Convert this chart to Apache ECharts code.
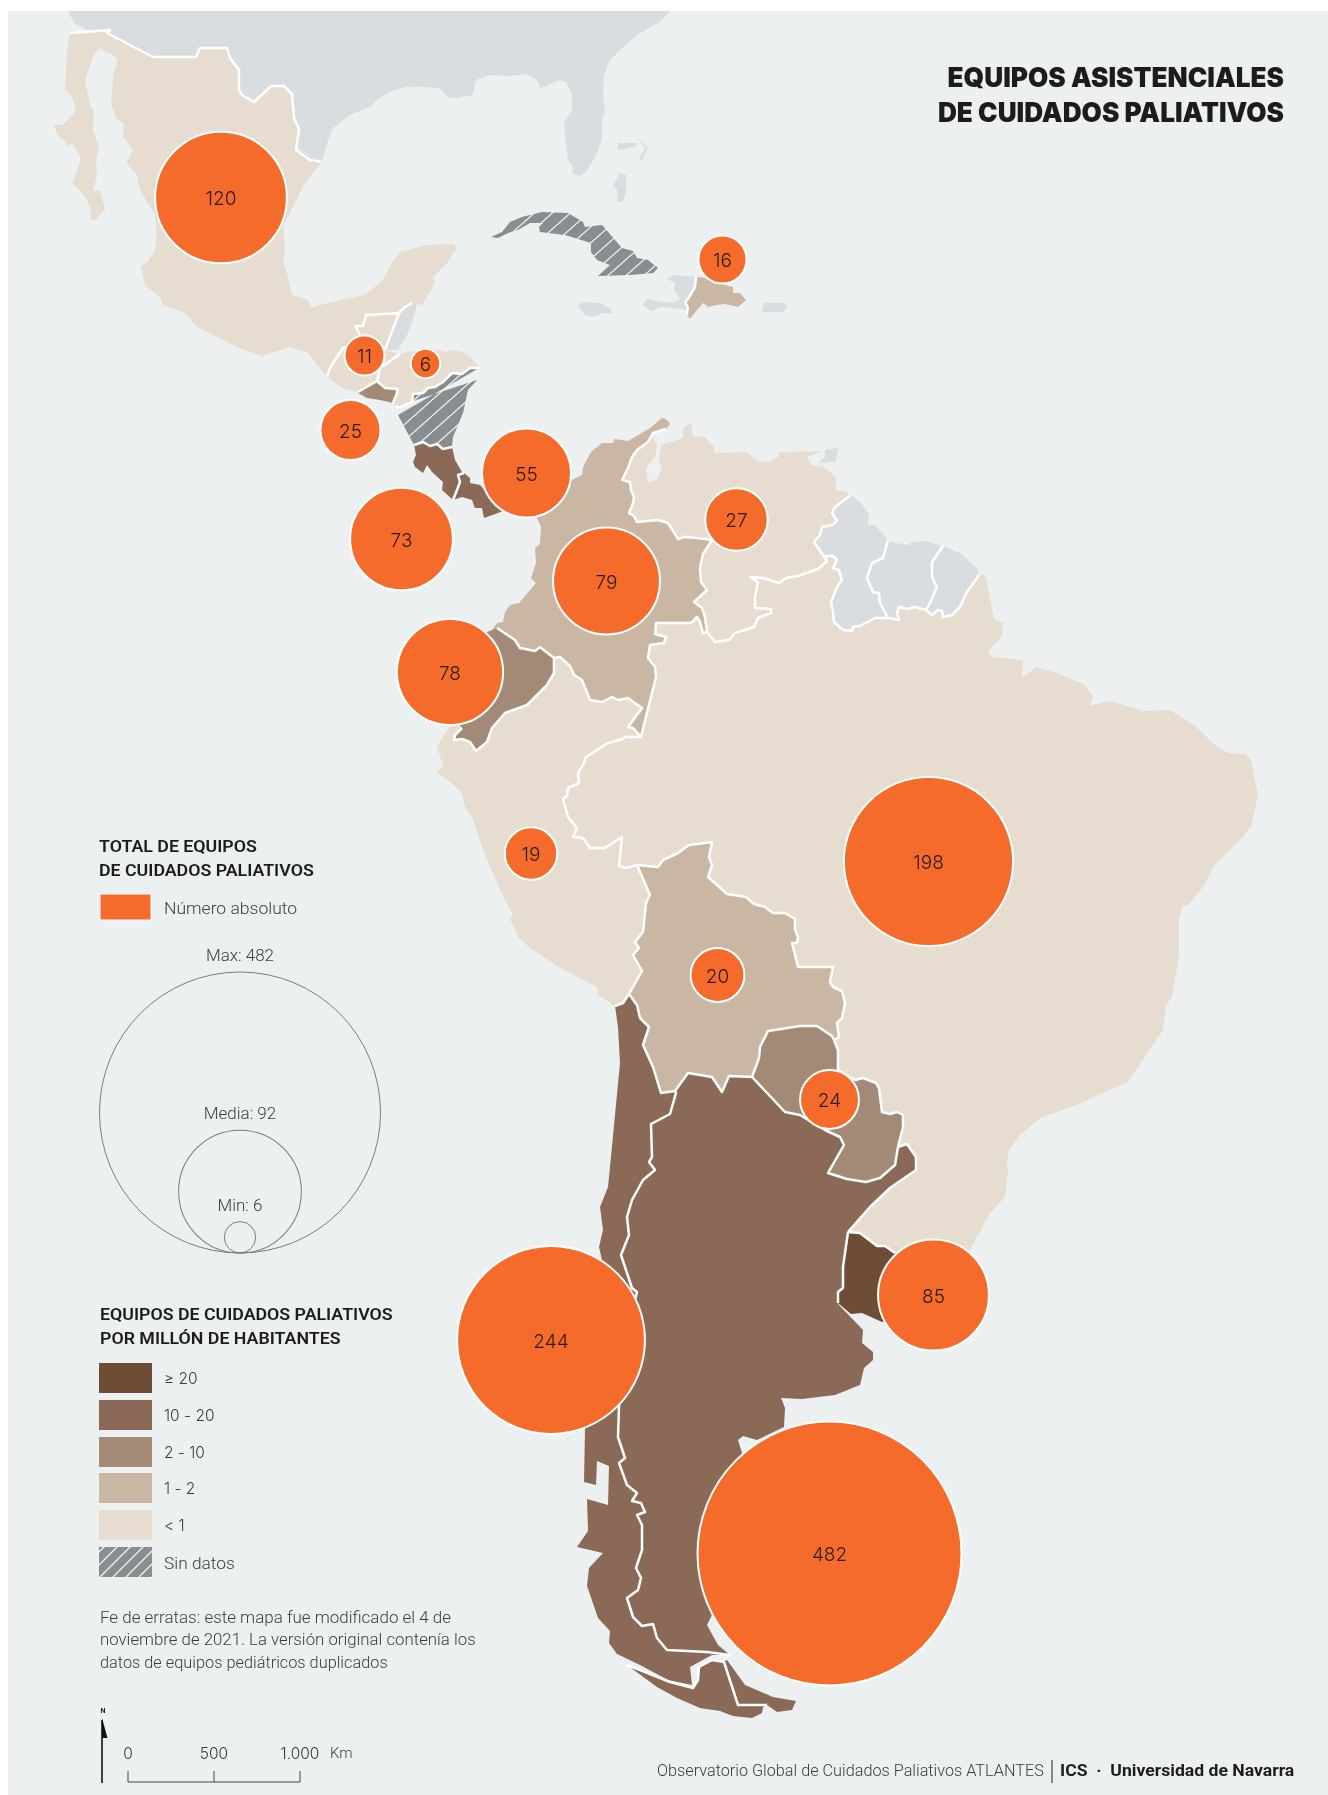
<!DOCTYPE html>
<html>
<head>
<meta charset="utf-8">
<title>Equipos asistenciales de cuidados paliativos</title>
<script src="https://cdn.jsdelivr.net/npm/echarts@6/dist/echarts.min.js"></script>
<style>
  html, body { margin: 0; padding: 0; background: #fff; }
  #chart { width: 1328px; height: 1795px; }
</style>
</head>
<body>
<div id="chart"></div>
<script>
// values
const countries = ['Argentina', 'Chile', 'Brasil', 'México', 'Uruguay', 'Colombia', 'Ecuador', 'Costa Rica', 'Panamá', 'Venezuela', 'El Salvador', 'Paraguay', 'Bolivia', 'Perú', 'Rep. Dominicana', 'Guatemala', 'Honduras']
const teams = [482, 244, 198, 120, 85, 79, 78, 73, 55, 27, 25, 24, 20, 19, 16, 11, 6]
// where each bubble sits, in map units
const anchors = [[829.5, 1553.5], [551, 1340], [928.5, 861.5], [221, 197.5], [933.5, 1295], [606.5, 581], [450, 672], [401.5, 539], [526.5, 473], [736.5, 519.5], [350.5, 430], [829.5, 1099.5], [717.5, 975], [531, 853.5], [722.5, 259.5], [364.5, 355.5], [425.5, 363.5]]

const classLabels = ['≥ 20', '10 - 20', '2 - 10', '1 - 2', '< 1', 'Sin datos']
const classColors = ['#6e4d37', '#8a6956', '#a38a77', '#c9b6a3', '#e6ddd0', '#888d90']
const class20 = ['Uruguay']
const class10 = ['Argentina', 'Chile', 'Costa Rica', 'Panamá']
const class2 = ['Ecuador', 'El Salvador', 'Paraguay']
const class1 = ['Colombia', 'Bolivia', 'Rep. Dominicana']
const class0 = ['México', 'Guatemala', 'Honduras', 'Venezuela', 'Perú', 'Brasil']
const classNone = ['Nicaragua', 'Cuba']

const sizeLegendNames = ['Max', 'Media', 'Min']
const sizeLegendValues = [482, 92, 6]
const scaleTicks = ['0', '500', '1.000']

// land borders, shared by the two countries on each side
const usaMex = [[70, 33], [110, 30], [107, 33], [153, 57], [196, 57], [200, 48], [227, 48], [230, 58], [239, 70], [239, 90], [242, 95], [254, 102], [271, 86], [284, 86], [292, 94], [294, 118], [299, 129], [296, 150], [310, 160], [322, 162]]
const mexGua = [[327, 377], [330, 368], [343, 348], [358, 345], [360, 335], [355, 326], [363, 326], [366, 315], [399, 313]]
const mexBel = [[399, 313], [405, 307], [412, 303]]
const guaBel = [[399, 313], [385, 350]]
const guaHon = [[400, 354], [380, 368], [377, 381]]
const guaSal = [[377, 381], [358, 392]]
const honSal = [[377, 381], [385, 388], [397, 389], [397, 393], [393, 403]]
const honNic = [[479, 368], [470, 368], [462, 374], [452, 373], [443, 382], [435, 387], [428, 388], [423, 393], [413, 394], [412, 402], [400, 407], [395, 407]]
const nicCri = [[414, 445], [423, 442], [430, 446], [437, 444], [443, 449], [452, 447]]
const criPan = [[464, 473], [458, 475], [460, 482], [457, 490], [453, 500]]
const colVen = [[666, 429], [653, 433], [648, 442], [637, 450], [632, 457], [628, 468], [622, 480], [630, 482], [631, 490], [634, 497], [633, 503], [629, 513], [634, 516], [637, 522], [658, 520], [668, 523], [678, 539], [685, 537], [697, 538], [712, 540], [703, 554], [700, 568], [701, 582], [707, 590], [694, 602], [702, 608], [705, 617], [707, 632]]
const colBra = [[707, 632], [703, 633], [700, 622], [697, 617], [691, 623], [656, 623], [655, 634], [666, 637], [664, 643], [650, 645], [648, 658], [655, 667], [656, 677], [641, 737]]
const colPer = [[554, 658], [560, 657], [570, 666], [574, 675], [582, 680], [590, 700], [602, 702], [612, 697], [618, 700], [628, 698], [642, 708], [628, 727], [633, 728], [641, 737]]
const colEcu = [[497, 628], [515, 640], [520, 648], [535, 651], [540, 647], [554, 658]]
const ecuPer = [[554, 658], [554, 673], [547, 685], [527, 705], [505, 713], [492, 728], [487, 742], [476, 751], [470, 742], [462, 739], [454, 740], [455, 735], [462, 728]]
const perBra = [[641, 737], [625, 737], [623, 739], [608, 743], [586, 757], [583, 765], [578, 773], [579, 783], [568, 788], [567, 796], [563, 799], [568, 817], [577, 828], [573, 837], [583, 838], [590, 848], [605, 848], [622, 837], [619, 866], [626, 868], [637, 865]]
const perBol = [[637, 865], [650, 895], [646, 903], [643, 932], [635, 942], [639, 948], [633, 955], [642, 971], [629, 994]]
const perChi = [[615, 1006], [623, 1003], [629, 994]]
const bolBra = [[637, 865], [658, 867], [663, 860], [678, 853], [689, 845], [712, 842], [709, 857], [712, 865], [708, 877], [727, 894], [746, 897], [754, 904], [765, 907], [773, 913], [785, 913], [795, 919], [795, 930], [798, 937], [797, 943], [792, 943], [798, 967], [833, 967], [830, 982], [833, 987], [842, 991], [845, 1003], [842, 1018], [837, 1023], [839, 1037], [834, 1040]]
const bolPar = [[834, 1040], [832, 1036], [817, 1026], [800, 1026], [768, 1031], [760, 1047], [759, 1058], [752, 1077]]
const bolChi = [[629, 994], [637, 1005], [640, 1018], [649, 1027], [643, 1045], [653, 1067], [661, 1093], [675, 1091]]
const bolArg = [[675, 1091], [688, 1073], [712, 1077], [722, 1092], [729, 1076], [752, 1077]]
const parBra = [[834, 1040], [838, 1050], [838, 1070], [855, 1080], [863, 1078], [876, 1083], [879, 1088], [882, 1112], [890, 1114], [897, 1112], [903, 1115], [903, 1127], [898, 1147]]
const parArg = [[752, 1077], [785, 1112], [800, 1115], [825, 1130], [840, 1137], [844, 1145], [828, 1173], [847, 1179], [866, 1182], [880, 1178], [895, 1165], [898, 1147]]
const argBra = [[898, 1147], [907, 1144], [916, 1157], [916, 1170], [890, 1188], [870, 1207], [848, 1232]]
const argUru = [[848, 1232], [843, 1267], [843, 1288], [838, 1292], [838, 1303]]
const uruBra = [[848, 1232], [860, 1233], [877, 1246], [885, 1246], [895, 1253]]
const chiArg = [[675, 1091], [676, 1093], [670, 1114], [651, 1124], [652, 1157], [649, 1162], [655, 1170], [643, 1180], [632, 1200], [627, 1217], [629, 1235], [621, 1255], [632, 1288], [637, 1292], [625, 1340], [619, 1407], [618, 1437], [625, 1458], [619, 1463], [627, 1485], [637, 1493], [632, 1501], [641, 1503], [645, 1512], [637, 1515], [642, 1525], [642, 1550], [636, 1568], [641, 1578], [638, 1590], [627, 1598], [633, 1617], [642, 1626], [653, 1624], [657, 1638], [667, 1650], [707, 1652], [730, 1655]]
const fuegoBorder = [[724, 1662], [738, 1705], [767, 1705]]
const fuegoStrait = [[627, 1665], [640, 1670], [670, 1682], [693, 1688], [698, 1680], [699, 1667], [712, 1660], [724, 1662]]
const venBra = [[707, 632], [715, 642], [729, 640], [735, 633], [754, 627], [758, 618], [771, 613], [771, 609], [755, 608], [755, 597], [758, 582], [750, 577], [763, 578], [779, 583], [786, 578], [798, 576], [818, 569], [827, 561]]
const venGuy = [[827, 561], [814, 542], [820, 535], [822, 527], [832, 525], [837, 521], [832, 513], [835, 507], [851, 495]]
const guySur = [[888, 540], [883, 558], [872, 563], [867, 578], [873, 592], [879, 593], [880, 603], [888, 618]]
const guyBra = [[888, 618], [875, 618], [860, 626], [853, 627], [852, 631], [843, 630], [834, 622], [833, 612], [831, 602], [837, 587], [842, 580], [839, 570], [833, 568], [837, 560], [833, 556], [825, 556], [827, 561]]
const surGuf = [[943, 546], [932, 562], [932, 577], [937, 587], [930, 603], [926, 610]]
const surBra = [[926, 610], [915, 607], [907, 609], [899, 607], [897, 613], [899, 620], [888, 618]]
const gufBra = [[979, 575], [967, 592], [960, 607], [952, 615], [943, 617], [942, 611], [938, 610], [932, 615], [926, 610]]
const haiDom = [[696, 277], [695, 287], [688, 299], [685, 302], [688, 308], [687, 312], [687, 315]]

// coasts, no white edge on these
const usaCoast = [[322, 162], [328, 140], [333, 128], [350, 115], [370, 107], [377, 100], [390, 92], [405, 87], [417, 87], [440, 88], [447, 97], [455, 98], [465, 96], [472, 96], [475, 85], [476, 80], [490, 75], [510, 76], [527, 74], [536, 79], [541, 88], [560, 80], [566, 82], [572, 95], [572, 110], [564, 122], [565, 135], [568, 160], [572, 165], [573, 174], [580, 176], [586, 172], [595, 157], [602, 140], [602, 120], [605, 110], [603, 95], [604, 75], [610, 60], [620, 50], [640, 33], [660, 22], [670, 11], [68, 11], [74, 23]]
const mexPacific = [[67, 50], [65, 90], [72, 97], [76, 110], [70, 118], [62, 125], [54, 125], [58, 136], [65, 141], [68, 146], [72, 143], [81, 158], [77, 172], [72, 183], [80, 190], [87, 200], [91, 210], [90, 220], [96, 220], [105, 209], [100, 191], [93, 191], [97, 175], [96, 160], [99, 147], [93, 130], [94, 112], [90, 105], [85, 80], [92, 60], [94, 55], [100, 48], [107, 53], [113, 53], [118, 60], [113, 75], [112, 95], [111, 103], [116, 118], [124, 124], [123, 137], [133, 150], [126, 163], [137, 175], [140, 190], [155, 215], [157, 235], [155, 250], [148, 262], [141, 266], [145, 285], [160, 297], [163, 305], [185, 313], [197, 327], [237, 347], [262, 356], [290, 347], [308, 353]]
const mexGulf = [[422, 305], [435, 283], [433, 277], [447, 263], [457, 248], [453, 244], [427, 245], [400, 252], [392, 263], [383, 280], [365, 295], [327, 303], [312, 308], [308, 300], [292, 295], [287, 273], [283, 262], [285, 247], [283, 227], [293, 207], [305, 183]]
const guaCoast = [[343, 388], [333, 382]]
const salCoast = [[380, 400], [367, 398], [358, 393]]
const honCoast = [[407, 352], [425, 349], [437, 350], [447, 352], [453, 350], [463, 352], [472, 358]]
const belCoast = [[398, 350], [408, 333], [415, 313], [417, 303]]
const nicEast = [[453, 437], [463, 413], [468, 390], [477, 380]]
const nicWest = [[398, 415]]
const criEast = [[455, 460], [462, 472]]
const criWest = [[442, 490], [443, 482], [432, 472], [427, 465], [423, 473], [415, 467], [413, 462], [416, 455]]
const panCoast = [[470, 478], [470, 483], [480, 485], [487, 493], [520, 470], [530, 500], [498, 513], [484, 518], [482, 508], [475, 508], [472, 500], [462, 497]]
const colCoast = [[490, 633], [497, 623], [503, 622], [505, 612], [510, 605], [519, 603], [536, 583], [531, 578], [536, 563], [535, 548], [540, 544], [541, 527], [537, 518], [545, 490], [572, 480], [582, 475], [583, 467], [591, 452], [602, 443], [613, 443], [615, 439], [628, 441], [650, 428], [662, 418], [667, 420], [670, 424]]
const ecuCoast = [[440, 700], [440, 660], [480, 635]]
const perCoast = [[452, 722], [437, 747], [443, 765], [437, 773], [448, 780], [462, 793], [465, 807], [472, 817], [483, 850], [500, 890], [513, 915], [510, 919], [518, 937], [530, 948], [560, 968], [597, 987], [598, 995]]
const venCoast = [[653, 437], [657, 445], [655, 457], [646, 468], [648, 482], [657, 480], [662, 467], [659, 460], [661, 445], [683, 438], [683, 428], [691, 423], [693, 436], [705, 437], [714, 447], [714, 453], [747, 452], [757, 461], [768, 462], [778, 457], [780, 452], [822, 451], [807, 457], [811, 465], [823, 467], [836, 477], [836, 491], [845, 491]]
const guyCoast = [[861, 503], [869, 515], [868, 525], [875, 525]]
const surCoast = [[890, 542], [908, 545], [912, 542], [925, 541]]
const gufCoast = [[960, 553], [977, 568]]
const braCoast = [[985, 575], [988, 587], [994, 619], [1003, 623], [1002, 636], [988, 651], [992, 657], [1023, 660], [1022, 678], [1036, 667], [1060, 674], [1085, 685], [1093, 696], [1090, 706], [1110, 701], [1144, 711], [1170, 710], [1195, 726], [1217, 747], [1229, 753], [1245, 754], [1251, 760], [1258, 795], [1251, 827], [1240, 840], [1214, 866], [1203, 887], [1188, 905], [1183, 905], [1179, 918], [1179, 957], [1172, 997], [1166, 1005], [1163, 1030], [1156, 1040], [1128, 1082], [1076, 1105], [1040, 1118], [1020, 1135], [1008, 1152], [1007, 1165], [1008, 1173], [1005, 1197], [990, 1213], [970, 1250], [945, 1268]]
const uruCoast = [[950, 1270], [930, 1320], [882, 1322], [862, 1313], [851, 1314]]
const argCoast = [[839, 1305], [863, 1330], [862, 1343], [873, 1352], [873, 1360], [864, 1368], [860, 1385], [835, 1395], [802, 1399], [781, 1398], [785, 1408], [784, 1427], [757, 1440], [743, 1436], [738, 1440], [742, 1453], [712, 1615], [707, 1625], [718, 1645]]
const chiWest = [[712, 1655], [690, 1667], [692, 1685], [668, 1680], [640, 1665], [617, 1654], [609, 1643], [610, 1631], [598, 1618], [587, 1586], [589, 1568], [603, 1553], [577, 1547], [588, 1531], [587, 1499], [608, 1505], [609, 1466], [597, 1461], [596, 1485], [584, 1482], [585, 1430], [590, 1300], [602, 1260], [599, 1247], [603, 1230], [600, 1207], [608, 1187], [610, 1167], [620, 1063], [618, 1027]]
const fuegoChile = [[627, 1665], [640, 1670], [670, 1682], [693, 1688], [698, 1680], [699, 1667], [712, 1660], [724, 1662], [738, 1705], [767, 1705], [763, 1707], [762, 1713], [752, 1718], [733, 1716], [720, 1711], [700, 1708], [677, 1698], [657, 1687]]
const fuegoArg = [[724, 1662], [727, 1660], [745, 1685], [773, 1697], [796, 1701], [792, 1710], [777, 1712], [767, 1705], [738, 1705]]

// islands
const cuba = [[491, 237], [502, 232], [510, 222], [522, 217], [542, 212], [568, 213], [583, 222], [585, 227], [602, 225], [622, 248], [633, 251], [637, 258], [648, 260], [658, 268], [653, 273], [630, 275], [598, 276], [610, 265], [597, 260], [591, 252], [591, 243], [565, 235], [540, 232], [539, 227], [543, 223], [530, 223], [518, 230], [508, 233], [498, 238]]
const domCoast = [[690, 319], [697, 310], [703, 303], [708, 307], [717, 305], [725, 304], [738, 307], [746, 300], [740, 293], [733, 293], [733, 287], [725, 285], [710, 278]]
const haiti = [[696, 277], [673, 275], [667, 279], [675, 283], [674, 290], [680, 299], [672, 303], [662, 302], [647, 299], [643, 305], [651, 311], [660, 307], [673, 308], [686, 310], [688, 308], [685, 302], [688, 299], [695, 287]]
const jamaica = [[578, 306], [583, 302], [600, 303], [610, 308], [612, 313], [603, 313], [593, 317], [585, 315]]
const puertoRico = [[762, 312], [764, 303], [783, 303], [788, 307], [783, 312]]
const trinidad = [[825, 450], [838, 448], [836, 462], [818, 463], [825, 457]]
const bahamasA = [[618, 143], [637, 143], [635, 147], [618, 150]]
const bahamasB = [[638, 139], [648, 148], [642, 160], [639, 159], [645, 148]]
const bahamasC = [[620, 173], [626, 175], [626, 191], [623, 202], [618, 202], [617, 190], [613, 186]]

const rev = line => line.slice().reverse()
const ring = (...parts) => parts.flat()

const shapes = {
  Estados: [ring(usaCoast, rev(usaMex))],
  México: [ring(rev(usaMex).slice(-1), mexPacific, mexGua, mexBel, mexGulf, rev(usaMex))],
  Belice: [ring(rev(mexBel), guaBel, belCoast)],
  Guatemala: [ring(mexGua, guaBel, guaHon, guaSal, guaCoast)],
  Honduras: [ring(rev(guaHon), honCoast, honNic, rev(honSal))],
  'El Salvador': [ring(rev(guaSal), honSal, salCoast)],
  Nicaragua: [ring(rev(honNic), nicWest, nicCri, nicEast)],
  'Costa Rica': [ring(nicCri, criEast, criPan, criWest)],
  Panamá: [ring(rev(criPan), panCoast)],
  Colombia: [ring(colVen, colBra, rev(colPer), rev(colEcu), colCoast)],
  Venezuela: [ring(colVen.slice(1), venBra, venGuy, rev(venCoast))],
  Guyana: [ring(venGuy, guyCoast, guySur, guyBra)],
  Surinam: [ring(surCoast, surGuf, surBra, rev(guySur))],
  Guayana: [ring(gufCoast, gufBra, rev(surGuf))],
  Ecuador: [ring(colEcu, ecuPer, ecuCoast)],
  Perú: [ring(perCoast, perChi, rev(perBol), rev(perBra), rev(colPer), ecuPer)],
  Brasil: [ring(venBra, rev(guyBra), rev(surBra), rev(gufBra), braCoast, rev(uruBra), rev(argBra), rev(parBra), rev(bolBra), rev(perBra), rev(colBra))],
  Bolivia: [ring(bolBra, bolPar, rev(bolArg), rev(bolChi), rev(perBol))],
  Paraguay: [ring(rev(bolPar), parBra, rev(parArg))],
  Uruguay: [ring(uruBra, uruCoast, rev(argUru))],
  Argentina: [ring(bolArg, parArg, argBra, argUru, argCoast, rev(chiArg)), fuegoArg],
  Chile: [ring(perChi, bolChi, chiArg, chiWest), fuegoChile],
  Cuba: [cuba],
  'Rep. Dominicana': [ring(haiDom, domCoast)],
  Haití: [haiti],
  Jamaica: [jamaica],
  'Puerto Rico': [puertoRico],
  Trinidad: [trinidad],
  BahamasA: [bahamasA],
  BahamasB: [bahamasB],
  BahamasC: [bahamasC]
}

const borders = [usaMex, mexGua, mexBel, guaBel, guaHon, guaSal, honSal, honNic, nicCri, criPan, colVen, colBra, colPer, colEcu, ecuPer, perBra, perBol, perChi, bolBra, bolPar, bolChi, bolArg, parBra, parArg, argBra, argUru, uruBra, chiArg, fuegoBorder, fuegoStrait, venBra, venGuy, guySur, guyBra, surGuf, surBra, gufBra, haiDom]

const PANEL = '#ecf0f1'
const GREY_LAND = '#d9dde0'
const ORANGE = '#f46b2b'
const INK = '#1c1c1c'
const BODY = '#3a3d3f'
const BUBBLE_SCALE = 264
const LEGEND_SCALE = 281
const LEGEND_X = 240
const LEGEND_BASE = 1253

function hatch (w, h) {
  const c = document.createElement('canvas')
  c.width = w
  c.height = h
  const g = c.getContext('2d')
  g.fillStyle = classColors[5]
  g.fillRect(0, 0, w, h)
  g.strokeStyle = '#f2f4f4'
  g.lineWidth = 1.3
  g.beginPath()
  g.moveTo(-w * 0.1, h * 1.1)
  g.lineTo(w * 1.1, -h * 0.1)
  g.moveTo(-w * 0.1, h * 0.1)
  g.lineTo(w * 0.1, -h * 0.1)
  g.moveTo(w * 0.9, h * 1.1)
  g.lineTo(w * 1.1, h * 0.9)
  g.stroke()
  return { image: c, repeat: 'repeat' }
}

const diameter = (v, scale) => Math.sqrt(v / sizeLegendValues[0]) * scale

const groups = [class20, class10, class2, class1, class0]
const regions = Object.keys(shapes).map(name => {
  const idx = groups.findIndex(g => g.includes(name))
  let color = GREY_LAND
  if (idx >= 0) color = classColors[idx]
  if (classNone.includes(name)) color = hatch(18, 16)
  return { name, itemStyle: { color, areaColor: color, borderWidth: 0 } }
})

const geoJson = {
  type: 'FeatureCollection',
  features: Object.keys(shapes).map(name => ({
    type: 'Feature',
    properties: { name },
    geometry: { type: 'MultiPolygon', coordinates: shapes[name].map(r => [r]) }
  }))
}
echarts.registerMap('latam', geoJson)

function text (x, baseline, str, opts) {
  const o = opts || {}
  const size = o.size || 16
  return {
    type: 'text',
    x,
    y: baseline - size * 0.22,
    z: 60,
    scaleX: o.sx || 1,
    silent: true,
    style: {
      text: str,
      font: `${o.weight || 300} ${size}px ${o.family || 'Roboto'}`,
      fill: o.fill || BODY,
      align: o.align || 'left',
      verticalAlign: 'middle'
    }
  }
}

const head = { size: 16, weight: 600, fill: INK, sx: 1.11 }
const title = { size: 27, weight: 900, fill: INK, align: 'right', family: 'Inter', sx: 0.97 }
const tick = { size: 15.5, family: 'Inter', align: 'center' }

const graphics = [
  { type: 'rect', z: -10, silent: true, shape: { x: 8, y: 11, width: 1320, height: 1784 }, style: { fill: PANEL } },
  text(1284, 85, 'EQUIPOS ASISTENCIALES', title),
  text(1284, 120, 'DE CUIDADOS PALIATIVOS', title),
  text(99, 852, 'TOTAL DE EQUIPOS', head),
  text(99, 876, 'DE CUIDADOS PALIATIVOS', head),
  { type: 'rect', z: 60, silent: true, shape: { x: 100, y: 894, width: 51, height: 26 }, style: { fill: ORANGE, stroke: '#fff', lineWidth: 1 } },
  text(164, 913, 'Número absoluto', { size: 17, sx: 1.03 }),
  text(100, 1320, 'EQUIPOS DE CUIDADOS PALIATIVOS', head),
  text(100, 1344, 'POR MILLÓN DE HABITANTES', head),
  text(100, 1623, 'Fe de erratas: este mapa fue modificado el 4 de', { sx: 1.06 }),
  text(100, 1645, 'noviembre de 2021. La versión original contenía los', { sx: 1.05 }),
  text(100, 1668, 'datos de equipos pediátricos duplicados', { sx: 1.02 }),
  text(657, 1776, 'Observatorio Global de Cuidados Paliativos ATLANTES', { sx: 1.015 }),
  { type: 'line', z: 60, silent: true, shape: { x1: 1052, y1: 1760, x2: 1052, y2: 1783 }, style: { stroke: '#222', lineWidth: 1 } },
  text(1060, 1776, 'ICS  ·  Universidad de Navarra', { weight: 700, fill: INK, sx: 1.1 }),
  // north arrow
  text(103, 1713, 'N', { size: 7, weight: 700, fill: INK, align: 'center' }),
  { type: 'polygon', z: 60, silent: true, shape: { points: [[102, 1718], [107.5, 1738], [102, 1738]] }, style: { fill: '#111' } },
  { type: 'line', z: 60, silent: true, shape: { x1: 102, y1: 1720, x2: 102, y2: 1783 }, style: { stroke: '#111', lineWidth: 1.6 } },
  // scale bar
  { type: 'polyline', z: 60, silent: true, shape: { points: [[128, 1771], [128, 1782], [300, 1782], [300, 1771]] }, style: { stroke: '#444', lineWidth: 1, fill: null } },
  { type: 'line', z: 60, silent: true, shape: { x1: 214, y1: 1771, x2: 214, y2: 1782 }, style: { stroke: '#444', lineWidth: 1 } },
  text(128, 1758, scaleTicks[0], tick),
  text(214, 1758, scaleTicks[1], tick),
  text(300, 1758, scaleTicks[2], tick),
  text(330, 1758, 'Km', { size: 15 })
]

classLabels.forEach((label, i) => {
  const top = [1363, 1400, 1437, 1473, 1510, 1547][i]
  const fill = i === 5 ? hatch(13, 13) : classColors[i]
  graphics.push({ type: 'rect', z: 60, silent: true, shape: { x: 99, y: top, width: 53, height: 30 }, style: { fill } })
  graphics.push(i === 5
    ? text(164, top + 21, label, { size: 17, sx: 1.02 })
    : text(164, top + 20, label, { size: 15.5, family: 'Inter' }))
})

const chart = echarts.init(document.getElementById('chart'), null, { renderer: 'canvas' })
chart.setOption({
  animation: false,
  backgroundColor: '#fff',
  graphic: { elements: graphics },
  geo: {
    map: 'latam',
    silent: true,
    roam: false,
    left: 0,
    top: 0,
    width: 1328,
    height: 1795,
    aspectScale: 1,
    boundingCoords: [[0, 0], [1328, 1795]],
    projection: { project: p => p, unproject: p => p },
    label: { show: false },
    itemStyle: { borderWidth: 0, areaColor: GREY_LAND },
    emphasis: { disabled: true },
    regions
  },
  series: [
    {
      type: 'lines',
      coordinateSystem: 'geo',
      polyline: true,
      silent: true,
      z: 5,
      lineStyle: { color: '#fff', width: 2.5, opacity: 1, join: 'round' },
      data: borders.map(coords => ({ coords }))
    },
    {
      type: 'scatter',
      coordinateSystem: 'geo',
      silent: true,
      z: 10,
      symbol: 'circle',
      symbolSize: d => diameter(d[2], BUBBLE_SCALE),
      itemStyle: { color: ORANGE, borderColor: '#fff', borderWidth: 2, opacity: 1 },
      label: {
        show: true,
        position: 'inside',
        offset: [0, 2],
        formatter: p => p.data.value[2],
        fontFamily: 'Inter',
        fontWeight: 300,
        fontSize: 19,
        color: '#2a1a12'
      },
      data: teams.map((v, i) => ({ name: countries[i], value: [anchors[i][0], anchors[i][1], v] }))
    },
    {
      type: 'scatter',
      coordinateSystem: 'geo',
      silent: true,
      z: 10,
      symbol: 'circle',
      symbolSize: d => diameter(d[2], LEGEND_SCALE),
      itemStyle: { color: 'rgba(0,0,0,0)', borderColor: '#7a7d80', borderWidth: 1, opacity: 1 },
      label: {
        show: true,
        position: 'top',
        distance: 6,
        formatter: p => `${p.name}: ${p.data.value[2]}`,
        fontFamily: 'Roboto',
        fontWeight: 300,
        fontSize: 17,
        color: BODY
      },
      data: sizeLegendValues.map((v, i) => ({
        name: sizeLegendNames[i],
        value: [LEGEND_X, LEGEND_BASE - diameter(v, LEGEND_SCALE) / 2, v]
      }))
    }
  ]
})
</script>
</body>
</html>
